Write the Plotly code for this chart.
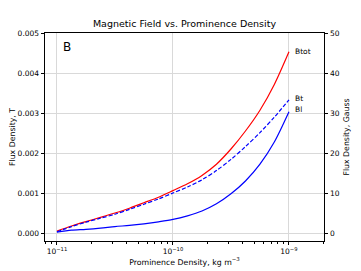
import numpy as np
import plotly.graph_objects as go

# log10 of prominence density (kg m^-3)
log_density = [-11.0, -10.875, -10.75, -10.625, -10.5, -10.375, -10.25, -10.125, -10.0,
               -9.875, -9.75, -9.625, -9.5, -9.375, -9.25, -9.125, -9.0]
# flux density (values in units of 1e-3 T)
b_tot_mT = [0.05, 0.175, 0.285, 0.39, 0.50, 0.62, 0.756, 0.895, 1.06,
            1.23, 1.44, 1.72, 2.10, 2.55, 3.07, 3.72, 4.53]
b_t_mT = [0.03, 0.16, 0.27, 0.37, 0.47, 0.59, 0.72, 0.85, 1.00,
          1.15, 1.33, 1.56, 1.84, 2.16, 2.51, 2.90, 3.33]
b_l_mT = [0.02, 0.07, 0.09, 0.12, 0.16, 0.19, 0.23, 0.28, 0.34,
          0.43, 0.55, 0.73, 0.98, 1.30, 1.72, 2.28, 3.03]

x_ticks = [1e-11, 1e-10, 1e-9]
x_ticktext = ["10<sup>\u221211</sup>", "10<sup>\u221210</sup>", "10<sup>\u22129</sup>"]
y_ticks = [0.000, 0.001, 0.002, 0.003, 0.004, 0.005]
y2_ticks = [0, 10, 20, 30, 40, 50]

density = [10 ** v for v in log_density]
b_tot = [v * 1e-3 for v in b_tot_mT]
b_t = [v * 1e-3 for v in b_t_mT]
b_l = [v * 1e-3 for v in b_l_mT]

FONT = "DejaVu Sans"
BLACK = "black"
GRID = "#d9d9d9"
fig = go.Figure()
fig.add_trace(go.Scatter(x=density, y=b_tot, mode="lines", line=dict(color="red", width=1.2, shape="spline", smoothing=0.8), showlegend=False))
fig.add_trace(go.Scatter(x=density, y=b_t, mode="lines", line=dict(color="blue", width=1.2, dash="4px,2px", shape="spline", smoothing=0.8), showlegend=False))
fig.add_trace(go.Scatter(x=density, y=b_l, mode="lines", line=dict(color="blue", width=1.2, shape="spline", smoothing=0.8), showlegend=False))
fig.add_trace(go.Scatter(x=[density[0]], y=[0], yaxis="y2", mode="markers", marker=dict(opacity=0), showlegend=False, hoverinfo="skip"))

ann_font = dict(family=FONT, size=7.5, color=BLACK)
xlab = np.log10(1.08e-9)
fig.add_annotation(x=xlab, y=b_tot[-1], text="Btot", showarrow=False, xanchor="left", yanchor="middle", font=ann_font)
fig.add_annotation(x=xlab, y=0.003375, text="Bt", showarrow=False, xanchor="left", yanchor="middle", font=ann_font)
fig.add_annotation(x=xlab, y=0.00308, text="Bl", showarrow=False, xanchor="left", yanchor="middle", font=ann_font)
fig.add_annotation(x=0.058, y=0.933, xref="paper", yref="paper", text="B", showarrow=False, xanchor="left", yanchor="middle", font=dict(family=FONT, size=12, color=BLACK))

tick_font = dict(family=FONT, size=7.5, color=BLACK)
title_font = dict(family=FONT, size=7.8, color=BLACK)
# page body has an 8px margin, so the figure is sized/offset to compensate
fig.update_layout(
    width=353, height=263,
    margin=dict(l=37, r=37, t=25, b=30),
    paper_bgcolor="white", plot_bgcolor="white",
    font=dict(family=FONT, size=7.5, color=BLACK),
    title=dict(text="Magnetic Field vs. Prominence Density", x=0.5, xanchor="center", y=0.939, yanchor="middle", font=dict(family=FONT, size=9.5, color=BLACK)),
    xaxis=dict(type="log", range=[-11.103, -8.698], tickvals=x_ticks, ticktext=x_ticktext, automargin=False,
               showgrid=True, gridcolor=GRID, gridwidth=0.8, tickfont=tick_font,
               showline=True, linecolor=BLACK, linewidth=0.8, mirror=True,
               ticks="outside", ticklen=3.5, tickwidth=0.8, tickcolor=BLACK,
               minor=dict(tickmode="linear", dtick="D1", ticks="outside", ticklen=2, tickwidth=0.6, tickcolor=BLACK, showgrid=False),
               title=dict(text="Prominence Density, kg m<sup>\u22123</sup>", font=title_font, standoff=3),
               zeroline=False),
    yaxis=dict(range=[-0.0002, 0.005], tickvals=y_ticks, tickformat=".3f", automargin=False,
               showgrid=True, gridcolor=GRID, gridwidth=0.8, tickfont=tick_font,
               showline=True, linecolor=BLACK, linewidth=0.8,
               ticks="outside", ticklen=3.5, tickwidth=0.8, tickcolor=BLACK,
               title=dict(text="Flux Density, T", font=title_font, standoff=4),
               zeroline=False),
    yaxis2=dict(range=[-2, 50], tickvals=y2_ticks, overlaying="y", side="right", automargin=False,
                showgrid=False, showline=True, linecolor=BLACK, linewidth=0.8, tickfont=tick_font,
                ticks="outside", ticklen=3.5, tickwidth=0.8, tickcolor=BLACK,
                title=dict(text="Flux Density, Gauss", font=title_font, standoff=4),
                zeroline=False),
)

fig.write_html("out.html")
